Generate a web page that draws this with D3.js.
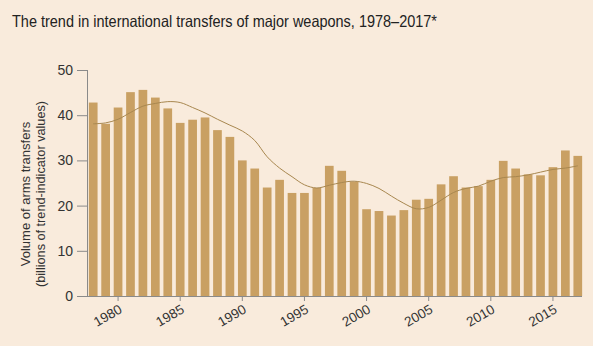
<!DOCTYPE html>
<html><head><meta charset="utf-8">
<script src="https://cdn.jsdelivr.net/npm/d3@7"></script>
<style>
html,body{margin:0;padding:0;background:#f9ebdc;}
svg{display:block;}
</style></head>
<body>
<svg id="chart" width="593" height="346"></svg>
<script>
const years = d3.range(1978, 2018);
const volumes = [42.8,38.1,41.7,45.1,45.6,43.9,41.5,38.3,39.0,39.5,
                 36.7,35.2,30.0,28.2,24.0,25.7,22.8,22.8,23.9,28.8,
                 27.7,25.3,19.2,18.8,17.8,19.0,21.3,21.5,24.7,26.5,
                 24.0,24.3,25.7,29.9,28.2,26.9,26.7,28.5,32.2,31.0];
const trend = [38.1,38.3,39.1,40.6,42.0,42.6,43.0,42.8,41.7,40.5,
               39.1,37.8,36.5,34.4,30.8,28.3,26.4,24.6,23.9,24.5,
               25.1,25.4,24.9,23.8,22.1,20.5,19.3,19.6,21.2,22.9,
               23.8,24.3,25.4,26.2,26.4,26.8,27.4,28.0,28.3,28.8];
const yTicks = [0,10,20,30,40,50];
const xTickYears = [1980,1985,1990,1995,2000,2005,2010,2015];
const title = "The trend in international transfers of major weapons, 1978–2017*";
const yLabel1 = "Volume of arms transfers";
const yLabel2 = "(billions of trend-indicator values)";

(function(){
const svg = d3.select("#chart");
svg.append("rect").attr("width",593).attr("height",346).attr("fill","#f9ebdc");

const mLeft = 87, mRight = 584, mTop = 70, mBottom = 296;
const x = d3.scaleBand().domain(years).range([mLeft, mRight]).paddingInner(0.3).paddingOuter(0.15);
const y = d3.scaleLinear().domain([0,50]).range([mBottom, mTop]);

const font = "'Liberation Sans', Arial, sans-serif";

svg.append("text").attr("x",12).attr("y",27)
  .attr("font-family",font).attr("font-size",16.5).attr("fill","#222")
  .attr("textLength",425).attr("lengthAdjust","spacingAndGlyphs")
  .text(title);

// bars
svg.append("g").selectAll("rect").data(years).join("rect")
  .attr("x", d => x(d)).attr("width", x.bandwidth())
  .attr("y", (d,i) => y(volumes[i])).attr("height", (d,i) => y(0) - y(volumes[i]))
  .attr("fill","#c9a063");

// trend line
const line = d3.line()
  .x((d,i) => x(years[i]) + x.bandwidth()/2)
  .y(d => y(d))
  .curve(d3.curveCatmullRom.alpha(0.5));
svg.append("path").datum(trend).attr("d", line)
  .attr("fill","none").attr("stroke","#a8874f").attr("stroke-width",1);

// y axis
const yAxis = svg.append("g").attr("transform",`translate(${mLeft},0)`)
  .call(d3.axisLeft(y).tickValues(yTicks).tickSize(10).tickPadding(4));
yAxis.select(".domain").attr("stroke","#8a8a8a").attr("d",`M0.5,${mTop}V${mBottom}`);
yAxis.selectAll(".tick line").attr("stroke","#8a8a8a");
yAxis.selectAll(".tick text").attr("font-family",font).attr("font-size",14).attr("fill","#333");

// x axis
const xAxis = svg.append("g").attr("transform",`translate(0,${mBottom})`)
  .call(d3.axisBottom(x).tickValues(xTickYears).tickSize(5).tickSizeOuter(0));
xAxis.select(".domain").attr("stroke","#8a8a8a").attr("d",`M${mLeft},0.5H${mRight-2}`);
xAxis.selectAll(".tick line").attr("stroke","#8a8a8a");
xAxis.selectAll(".tick text")
  .attr("font-family",font).attr("font-size",13.5).attr("fill","#333")
  .attr("text-anchor","end").attr("dy",null).attr("y",null)
  .attr("transform","translate(5,16) rotate(-30)");

// y label
const yl = svg.append("g").attr("transform","translate(0,194) rotate(-90)");
yl.append("text").attr("x",0).attr("y",30).attr("text-anchor","middle")
  .attr("font-family",font).attr("font-size",13).attr("fill","#333").text(yLabel1);
yl.append("text").attr("x",0).attr("y",45).attr("text-anchor","middle")
  .attr("font-family",font).attr("font-size",13).attr("fill","#333")
  .attr("textLength",186).attr("lengthAdjust","spacingAndGlyphs").text(yLabel2);
})();
</script>
</body></html>
